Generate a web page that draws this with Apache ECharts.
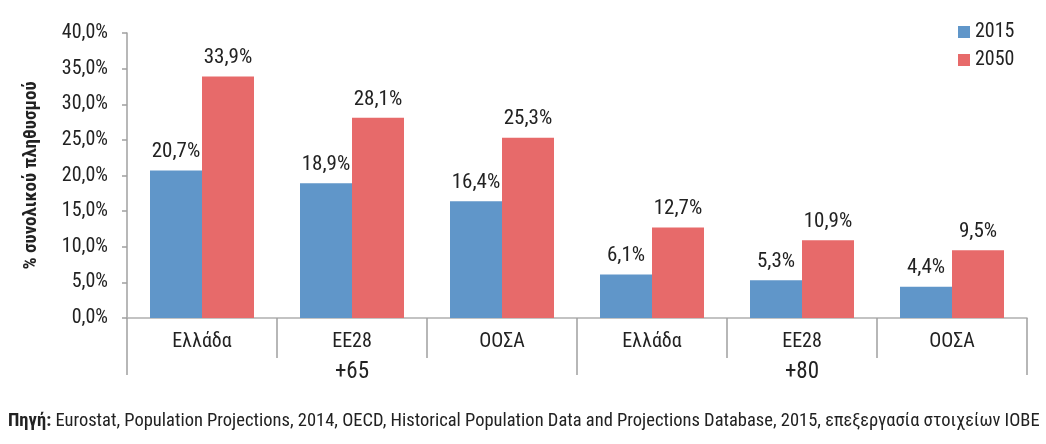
<!DOCTYPE html>
<html><head><meta charset="utf-8">
<script src="https://cdn.jsdelivr.net/npm/echarts@6/dist/echarts.min.js"></script>
<style>html,body{margin:0;padding:0;background:#fff}#c{width:1046px;height:444px}</style>
</head><body><div id="c"></div>
<script>
const categories = ['Ελλάδα','ΕΕ28','ΟΟΣΑ','Ελλάδα','ΕΕ28','ΟΟΣΑ'];
const groups = ['+65','+80'];
const s2015 = [20.7, 18.9, 16.4, 6.1, 5.3, 4.4];
const s2050 = [33.9, 28.1, 25.3, 12.7, 10.9, 9.5];
const seriesNames = ['2015','2050'];
const yTicks = {min:0, max:40, interval:5};
const yName = '% συνολικού πληθυσμού';
const sourceLabel = 'Πηγή:';
const sourceText = ' Eurostat, Population Projections, 2014, OECD, Historical Population Data and Projections Database, 2015, επεξεργασία στοιχείων ΙΟΒΕ';

const FF = "'Liberation Sans Narrow','Roboto Condensed','DejaVu Sans Condensed',sans-serif";
const fmt = v => v.toFixed(1).replace('.', ',') + '%';
const chart = echarts.init(document.getElementById('c'), null, {renderer:'canvas'});
chart.setOption({
  animation:false,
  textStyle:{fontFamily:FF, color:'#222'},
  grid:{left:127, right:19, top:33, bottom:126, containLabel:false},
  legend:{orient:'vertical', left:953, top:17, icon:'rect', itemWidth:12, itemHeight:12, itemGap:8,
    textStyle:{fontSize:20, fontFamily:FF, color:'#222'}, data:seriesNames},
  xAxis:[
    {type:'category', data:categories, position:'bottom',
     axisLine:{show:true, lineStyle:{color:'#b0b0b0', width:1.5}},
     axisTick:{show:true, length:40, interval:0, lineStyle:{color:'#a0a0a0', width:1.5}},
     axisLabel:{interval:0, margin:14, fontSize:20, color:'#222', fontFamily:FF}},
    {type:'category', data:groups, position:'bottom', offset:0,
     axisLine:{show:false},
     axisTick:{show:true, length:57, interval:0, lineStyle:{color:'#a0a0a0', width:1.5}},
     axisLabel:{interval:0, margin:43, fontSize:23, color:'#222', fontFamily:FF}}
  ],
  yAxis:{type:'value', min:yTicks.min, max:yTicks.max, interval:yTicks.interval,
    name:yName, nameLocation:'middle', nameRotate:90, nameGap:86,
    nameTextStyle:{fontSize:19, fontWeight:'bold', color:'#222', fontFamily:FF},
    axisLine:{show:true, lineStyle:{color:'#a0a0a0', width:1.5}},
    axisTick:{show:true, length:5, lineStyle:{color:'#a0a0a0', width:1.5}},
    splitLine:{show:false},
    axisLabel:{margin:19, fontSize:20, color:'#222', fontFamily:FF, formatter:v=>fmt(v)}},
  series:[
    {name:seriesNames[0], type:'bar', data:s2015, barWidth:52, barGap:'0%',
     itemStyle:{color:'#6096c9'},
     label:{show:true, position:'top', distance:8, fontSize:21, color:'#222', fontFamily:FF, formatter:p=>fmt(p.value)}},
    {name:seriesNames[1], type:'bar', data:s2050, barWidth:52, barGap:'0%',
     itemStyle:{color:'#e76a6a'},
     label:{show:true, position:'top', distance:8, fontSize:21, color:'#222', fontFamily:FF, formatter:p=>fmt(p.value)}}
  ],
  graphic:[{type:'text', left:8, top:412,
    style:{rich:{b:{fontWeight:'bold', fontSize:18.5, fontFamily:FF, fill:'#222'}, n:{fontSize:18.5, fontFamily:FF, fill:'#222'}},
      text:'{b|'+sourceLabel+'}{n|'+sourceText+'}'}}]
});
</script></body></html>
